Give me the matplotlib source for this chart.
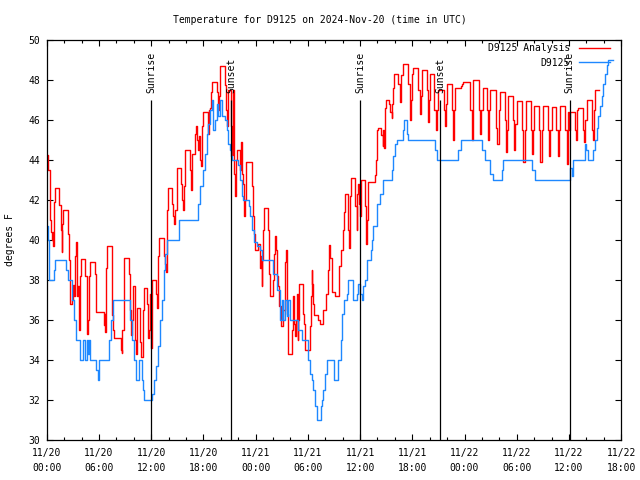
import numpy as np
import pandas as pd
import matplotlib
matplotlib.use('Agg')
import matplotlib.pyplot as plt
import matplotlib.dates as mdates

# hours after 2024-11-20 00:00 UTC and temperature (deg F), drawn as steps
analysis_hours = [
    0.00, 0.15, 0.38, 0.53, 0.62, 0.69, 0.76, 0.84, 0.99, 1.45, 1.61, 1.68, 1.72, 1.79, 1.91,
    2.45, 2.60, 2.71, 2.85, 2.99, 3.15, 3.29, 3.40, 3.45, 3.60, 3.74, 3.82, 3.97, 4.43, 4.59,
    4.70, 4.86, 4.97, 5.51, 5.63, 6.58, 6.65, 6.73, 6.81, 6.96, 7.47, 7.54, 7.65, 7.73, 8.50,
    8.60, 8.69, 8.88, 9.45, 9.57, 9.65, 9.80, 9.95, 10.10, 10.22, 10.41, 10.68, 10.80, 11.03,
    11.18, 11.49, 11.64, 11.80, 11.87, 11.95, 12.06, 12.55, 12.63, 12.75, 12.82, 12.90, 13.51,
    13.60, 13.67, 13.78, 13.90, 14.43, 14.54, 14.66, 14.74, 14.93, 15.43, 15.51, 15.69, 15.77,
    15.89, 16.46, 16.54, 16.66, 16.72, 17.03, 17.11, 17.23, 17.34, 17.49, 17.61, 17.72, 17.87,
    17.99, 18.49, 18.56, 18.64, 18.76, 18.87, 19.02, 19.53, 19.64, 19.71, 19.79, 19.91, 20.48,
    20.60, 20.68, 20.79, 20.86, 21.17, 21.25, 21.32, 21.43, 21.48, 21.55, 21.63, 21.70, 21.78,
    21.86, 22.20, 22.32, 22.47, 22.58, 22.70, 22.78, 22.89, 23.55, 23.66, 23.78, 23.89, 24.31,
    24.50, 24.62, 24.70, 24.77, 24.88, 25.00, 25.45, 25.53, 25.65, 26.03, 26.15, 26.22, 26.30,
    26.42, 26.60, 26.72, 26.91, 27.18, 27.37, 27.49, 27.58, 27.64, 27.68, 27.75, 28.21, 28.33,
    28.45, 28.52, 28.62, 28.72, 28.83, 28.92, 29.01, 29.47, 29.59, 29.67, 30.24, 30.36, 30.44,
    30.53, 30.62, 30.74, 31.20, 31.39, 31.77, 32.05, 32.28, 32.39, 32.54, 32.74, 33.12, 33.57,
    33.80, 34.00, 34.11, 34.26, 34.64, 34.72, 34.84, 34.95, 35.41, 35.61, 35.68, 35.79, 35.90,
    35.99, 36.10, 36.56, 36.68, 36.79, 36.94, 37.71, 37.82, 37.98, 38.09, 38.36, 38.59, 38.66,
    38.74, 38.86, 38.97, 39.36, 39.45, 39.63, 39.70, 39.81, 39.93, 40.39, 40.58, 40.70, 40.89,
    41.53, 41.73, 41.85, 41.96, 42.10, 42.69, 42.88, 42.98, 43.07, 43.65, 43.83, 43.93, 44.03,
    44.55, 44.72, 44.85, 44.98, 45.62, 45.75, 45.85, 45.95, 46.55, 46.70, 46.80, 46.90, 47.55,
    47.70, 47.85, 48.60, 48.82, 48.92, 49.00, 49.62, 49.77, 49.90, 50.08, 50.60, 50.73, 50.82,
    50.92, 51.60, 51.75, 51.95, 52.07, 52.60, 52.72, 52.85, 52.95, 53.55, 53.71, 53.85, 53.99,
    54.65, 54.75, 54.90, 55.02, 55.65, 55.78, 55.90, 56.01, 56.55, 56.70, 56.85, 57.04, 57.60,
    57.69, 57.85, 58.00, 58.55, 58.69, 58.80, 58.96, 59.55, 59.73, 59.85, 59.91, 60.00, 60.10,
    60.65, 60.80, 60.90, 60.99, 61.60, 61.75, 61.88, 62.03, 62.70, 62.79, 62.90, 62.98, 63.44,
]
analysis_temp = [
    44.25, 43.5, 41.0, 40.4, 40.0, 40.4, 39.7, 41.9, 42.6, 41.75, 41.0, 40.5, 39.4, 40.8, 41.5,
    40.3, 39.0, 36.8, 37.0, 37.75, 37.2, 39.2, 39.9, 37.2, 37.7, 35.5, 38.2, 39.05, 38.2, 35.3,
    36.0, 38.2, 38.9, 38.3, 36.4, 35.75, 36.3, 35.4, 38.6, 39.7, 39.0, 36.25, 35.5, 35.1, 34.5,
    34.35, 35.5, 39.1, 38.3, 36.5, 35.25, 36.0, 37.7, 35.0, 34.3, 36.6, 34.9, 34.15, 36.5,
    37.6, 36.8, 35.1, 35.5, 37.3, 34.6, 38.0, 37.3, 36.6, 37.5, 39.2, 40.1, 39.2,
    38.8, 38.4, 41.5, 42.6, 41.8, 41.2, 40.8, 41.5, 43.6, 42.8, 42.0, 41.5, 42.7,
    44.5, 43.5, 42.5, 44.0, 44.3, 45.3, 45.7, 45.0, 44.5, 45.2, 44.0, 43.7, 45.7,
    46.4, 45.8, 45.3, 46.5, 46.6, 47.4, 47.9, 47.4, 46.8, 46.5, 47.2, 48.7, 47.75,
    46.5, 45.7, 46.8, 47.5, 45.7, 44.5, 44.25, 47.5, 44.0, 43.3, 42.2, 42.8, 44.0,
    44.5, 43.5, 44.9, 43.3, 42.8, 41.2, 42.0, 43.9, 42.7, 41.2, 40.3, 39.5, 39.8,
    38.6, 39.2, 37.7, 39.0, 40.5, 41.6, 40.5, 38.3, 37.2, 38.0, 39.3, 40.2, 39.5,
    38.2, 37.7, 36.7, 35.7, 36.5, 38.9, 39.5, 38.5, 36.3, 34.5, 34.3, 35.5, 37.2,
    35.8, 35.2, 36.0, 37.3, 35.0, 36.0, 37.8, 36.3, 35.8, 34.5, 35.7, 37.2, 38.5,
    37.8, 36.8, 36.25, 36.0, 35.8, 36.5, 37.3, 38.5, 39.75, 39.1, 37.4, 37.2, 38.7,
    39.5, 40.5, 41.4, 42.3, 40.5, 39.6, 42.2, 43.1, 41.7, 40.5, 42.3, 42.8, 41.8,
    41.2, 43.0, 41.7, 39.8, 41.0, 42.9, 43.25, 44.0, 45.5, 45.6, 45.25, 44.7, 45.5,
    44.6, 46.6, 47.0, 46.8, 46.4, 46.1, 46.8, 47.6, 48.3, 47.8, 46.9, 48.25, 48.8,
    47.8, 46.0, 47.0, 48.3, 48.6, 47.5, 46.3, 47.2, 48.5, 47.5, 45.9, 47.0, 48.3,
    46.5, 45.5, 46.5, 47.5, 46.5, 45.7, 46.8, 47.8, 46.5, 45.0, 46.5, 47.6, 47.7,
    47.8, 47.9, 46.5, 45.0, 46.5, 48.0, 46.5, 45.3, 46.5, 47.6, 46.5, 45.0, 46.5,
    47.5, 45.6, 44.8, 46.5, 47.4, 46.0, 44.4, 45.5, 47.2, 46.0, 44.5, 45.8, 46.95,
    45.5, 43.9, 45.5, 46.95, 45.5, 44.3, 45.5, 46.7, 45.5, 43.9, 45.5, 46.7, 45.5,
    44.2, 45.5, 46.65, 45.5, 44.2, 45.5, 46.7, 45.5, 43.8, 46.0, 46.4, 45.5, 46.4,
    45.5, 45.0, 46.5, 46.6, 45.5, 44.9, 46.0, 47.0, 45.5, 45.0, 46.5, 47.5, 47.5,
]

obs_hours = [
    0.00, 0.12, 0.25, 0.80, 0.90, 2.25, 2.50, 2.90, 3.15, 3.35, 3.80, 4.20, 4.45, 4.60, 4.75,
    4.85, 5.00, 5.70, 5.85, 6.05, 7.20, 7.40, 7.60, 9.55, 9.80, 10.05, 10.30, 10.60, 10.95,
    11.10, 11.20, 12.05, 12.35, 12.60, 12.80, 13.05, 13.20, 13.45, 13.60, 13.78, 15.15, 17.34,
    17.61, 17.99, 18.18, 18.38, 18.56, 18.76, 18.95, 19.14, 19.33, 19.53, 19.71, 19.90, 20.10,
    20.48, 20.68, 20.86, 21.05, 21.17, 21.25, 22.01, 22.20, 22.40, 22.58, 23.24, 23.35, 23.55,
    23.85, 24.12, 24.50, 24.70, 26.03, 26.42, 26.80, 26.99, 27.20, 27.40, 27.60, 27.75, 27.95,
    28.90, 29.29, 30.05, 30.24, 30.44, 30.62, 30.82, 31.01, 31.47, 31.59, 31.77, 31.97, 32.16,
    33.03, 33.50, 33.80, 33.95, 34.15, 34.46, 34.64, 35.22, 35.61, 35.79, 35.99, 36.18, 36.37,
    36.56, 36.76, 37.25, 37.33, 37.52, 37.90, 38.28, 38.66, 39.63, 39.81, 40.00, 40.20, 40.96,
    41.10, 41.35, 41.54, 44.60, 44.80, 47.28, 47.55, 49.97, 50.35, 50.92, 51.23, 52.26, 52.45,
    55.71, 56.09, 60.10, 60.30, 60.49, 61.80, 62.00, 62.21, 62.79, 62.98, 63.17, 63.37, 63.55,
    63.75, 63.94, 64.13, 64.32, 64.51, 65.08,
]
obs_temp = [
    40.7, 40.0, 38.0, 38.5, 39.0, 38.5, 38.0, 37.0, 36.0, 35.0, 34.0, 35.0, 34.0, 35.0, 34.3,
    35.0, 34.0, 33.5, 33.0, 34.0, 35.0, 36.0, 37.0, 36.0, 35.0, 34.0, 33.0, 34.0, 33.0,
    32.5, 32.0, 32.3, 33.0, 33.7, 34.7, 36.0, 37.0, 38.5, 39.3, 40.0, 41.0, 41.8,
    42.7, 43.5, 44.3, 45.3, 45.8, 46.5, 47.0, 45.5, 46.0, 46.8, 46.2, 47.0, 46.2,
    46.0, 45.5, 44.8, 44.5, 44.2, 44.0, 43.75, 43.0, 42.2, 42.0, 41.7, 41.2, 40.5,
    39.9, 39.7, 39.5, 39.0, 38.3, 37.5, 36.0, 37.0, 36.0, 37.0, 36.2, 37.0, 36.0,
    35.5, 35.0, 34.0, 33.3, 33.0, 32.5, 31.7, 31.0, 31.7, 32.0, 32.5, 33.3, 34.0,
    33.0, 34.0, 35.0, 36.3, 37.0, 37.3, 38.0, 37.0, 37.3, 37.8, 37.3, 37.0, 37.7,
    38.0, 39.0, 39.5, 40.0, 40.7, 41.8, 42.3, 43.0, 43.5, 44.2, 44.8, 45.0, 45.5,
    46.0, 45.3, 45.0, 44.5, 44.0, 44.5, 45.0, 44.5, 44.0, 43.3, 43.0, 43.5, 44.0,
    43.5, 43.0, 43.6, 43.2, 44.0, 44.8, 44.5, 44.0, 44.5, 45.0, 45.6, 46.2, 46.7,
    47.2, 47.8, 48.3, 48.75, 49.0, 49.0,
]

sun_labels = ['Sunrise', 'Sunset', 'Sunrise', 'Sunset', 'Sunrise']
sun_times = ['2024-11-20 12:01', '2024-11-20 21:12', '2024-11-21 12:02',
             '2024-11-21 21:13', '2024-11-22 12:05']

start = pd.Timestamp('2024-11-20 00:00')
t_analysis = start + pd.to_timedelta(analysis_hours, unit='h')
t_obs = start + pd.to_timedelta(obs_hours, unit='h')

plt.rcParams['font.family'] = 'DejaVu Sans Mono'
plt.rcParams['font.size'] = 7

fig = plt.figure(figsize=(6.4, 4.8), dpi=100)
ax = fig.add_axes([46.7 / 640, 40 / 480, 574.5 / 640, 400 / 480])

ax.plot(t_analysis, analysis_temp, drawstyle='steps-post', color='#ff0000', lw=1.0,
        label='D9125 Analysis')
ax.plot(t_obs, obs_temp, drawstyle='steps-post', color='#1e88ff', lw=1.0, label='D9125')

# sunrise / sunset markers
for lab, ts in zip(sun_labels, sun_times):
    t = pd.Timestamp(ts)
    ax.vlines(t, 30, 47, color='black', lw=0.9)
    ax.text(t, 47.35, lab, rotation=90, ha='center', va='bottom', fontsize=7)

ax.set_xlim(start, start + pd.Timedelta(hours=66))
ax.set_ylim(30, 50)
ax.set_yticks(np.arange(30, 51, 2))

ax.xaxis.set_major_locator(mdates.HourLocator(byhour=[0, 6, 12, 18]))
ax.xaxis.set_minor_locator(mdates.HourLocator(byhour=range(0, 24, 2)))
ax.xaxis.set_major_formatter(mdates.DateFormatter('%m/%d\n%H:%M'))

ax.tick_params(which='both', direction='in', top=True, right=True, width=0.8)
ax.tick_params(which='major', length=4)
ax.tick_params(which='minor', length=2)
ax.tick_params(axis='x', which='major', pad=6)
ax.tick_params(axis='y', pad=5)
for lbl in ax.get_xticklabels():
    lbl.set_linespacing(1.6)
for sp in ax.spines.values():
    sp.set_linewidth(0.9)

leg = ax.legend(loc='upper right', bbox_to_anchor=((610 - 46.7) / 574.5, 1 - 3.5 / 400),
                frameon=False, markerfirst=False, borderpad=0, borderaxespad=0,
                handlelength=3.2, handletextpad=0.9, labelspacing=0.45, fontsize=7)

fig.text(0.5, 1 - 20 / 480, 'Temperature for D9125 on 2024-Nov-20 (time in UTC)',
         ha='center', va='center', fontsize=7)
fig.text(10 / 640, 0.5, 'degrees F', rotation=90, ha='center', va='center', fontsize=7)

fig.savefig('out.png', dpi=100)
